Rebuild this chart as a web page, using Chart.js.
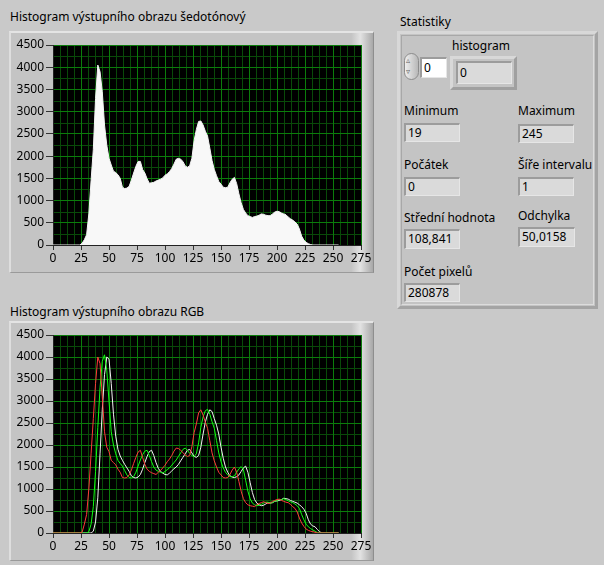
<!DOCTYPE html>
<html>
<head>
<meta charset="utf-8">
<script src="https://cdn.jsdelivr.net/npm/chart.js@4"></script>
<style>
  html, body { margin: 0; padding: 0; }
  body {
    width: 604px; height: 565px; position: relative; overflow: hidden;
    background: #c9c9c9;
    font-family: "Noto Sans", "Open Sans", sans-serif; font-size: 12px; color: #000;
  }
  .abs { position: absolute; }
  .title { position: absolute; font-size: 12px; line-height: 14px; white-space: nowrap; }
  .frame {
    position: absolute; box-sizing: border-box;
    background: linear-gradient(to right, #c4c4c4 0, #c4c4c4 94%, #e2e2e2 96.5%, #a8a8a8 100%);
    border-top: 2px solid #e4e4e4; border-left: 2px solid #dedede;
    border-bottom: 1px solid #9a9a9a; border-right: 1px solid #8e8e8e;
  }
  .frame canvas { position: absolute; left: 0; top: 0; }
  .stats {
    position: absolute; box-sizing: border-box;
    border: 3px solid #d8d8d8; border-right-color: #a4a4a4; border-bottom-color: #a4a4a4;
    background: #c4c4c4;
  }
  .stats-inner {
    position: absolute; left: 1px; top: 1px; right: 1px; bottom: 1px;
    border: 1px solid #a8a8a8; border-right-color: #dcdcdc; border-bottom-color: #dcdcdc;
  }
  .lbl { position: absolute; white-space: nowrap; line-height: 14px; }
  .ind {
    position: absolute; box-sizing: border-box; background: #dadada;
    border-top: 2px solid #9c9c9c; border-left: 2px solid #9c9c9c;
    border-right: 1px solid #e6e6e6; border-bottom: 1px solid #e6e6e6;
    padding-left: 2px; line-height: 15px; white-space: nowrap;
  }
</style>
</head>
<body>

<div class="title" style="left:10px; top:10px;">Histogram výstupního obrazu šedotónový</div>
<div class="frame" style="left:9px; top:31px; width:365px; height:242px;">
  <canvas id="grayChart" width="362" height="239"></canvas>
</div>

<div class="title" style="left:10px; top:305px;">Histogram výstupního obrazu RGB</div>
<div class="frame" style="left:9px; top:321px; width:365px; height:240px;">
  <canvas id="rgbChart" width="362" height="237"></canvas>
</div>

<div class="title" style="left:400px; top:15px;">Statistiky</div>
<div class="stats" style="left:397px; top:31px; width:201px; height:278px;">
  <div class="stats-inner"></div>
</div>

<!-- index selector and histogram value -->
<div class="abs" style="left:404px; top:53px; width:15px; height:27px; border-radius:8px;
     background: linear-gradient(to right, #eeeeee, #b8b8b8); border:1px solid #8c8c8c; box-sizing:border-box;"></div>
<div class="abs" style="left:406px; top:55px; font-size:8px; line-height:10px; color:#666;">▵</div>
<div class="abs" style="left:406px; top:66px; font-size:8px; line-height:10px; color:#666;">▿</div>
<div class="abs" style="left:420px; top:57px; width:27px; height:21px; box-sizing:border-box; background:#fff;
     border-top:2px solid #9c9c9c; border-left:2px solid #9c9c9c; border-right:1px solid #e6e6e6; border-bottom:1px solid #e6e6e6;
     padding-left:2px; line-height:17px;">0</div>
<div class="lbl" style="left:452px; top:39px;">histogram</div>
<div class="abs" style="left:450px; top:56px; width:67px; height:34px; box-sizing:border-box;
     border-top:3px solid #d8d8d8; border-left:3px solid #d8d8d8; border-right:3px solid #a0a0a0; border-bottom:3px solid #a0a0a0; background:#c4c4c4;"></div>
<div class="ind" style="left:456px; top:61px; width:56px; height:23px; line-height:19px;">0</div>

<div class="lbl" style="left:404px; top:104px;">Minimum</div>
<div class="ind" id="vMin" style="left:404px; top:123px; width:56px; height:19px;"></div>
<div class="lbl" style="left:518px; top:104px;">Maximum</div>
<div class="ind" id="vMax" style="left:518px; top:124px; width:56px; height:19px;"></div>

<div class="lbl" style="left:404px; top:158px;">Počátek</div>
<div class="ind" id="vStart" style="left:404px; top:177px; width:56px; height:19px;"></div>
<div class="lbl" style="left:518px; top:158px;">Šíře intervalu</div>
<div class="ind" id="vWidth" style="left:518px; top:177px; width:56px; height:19px;"></div>

<div class="lbl" style="left:404px; top:211px;">Střední hodnota</div>
<div class="ind" id="vMean" style="left:404px; top:229px; width:56px; height:20px;"></div>
<div class="lbl" style="left:518px; top:209px;">Odchylka</div>
<div class="ind" id="vDev" style="left:518px; top:227px; width:57px; height:20px;"></div>

<div class="lbl" style="left:404px; top:265px;">Počet pixelů</div>
<div class="ind" id="vCount" style="left:404px; top:283px; width:56px; height:19px;"></div>

<script>
// ---- histogram data (gray level -> pixel count) ----
const grayLevels = [0, 24, 26, 28, 30, 32, 34, 36, 38, 40, 42, 44, 46, 48, 50, 52, 54, 56, 58, 60, 62, 64, 66, 68, 70,
  72, 74, 76, 78, 80, 82, 84, 86, 88, 90, 92, 94, 96, 98, 100, 102, 104, 106, 108, 110, 112, 114, 116, 118, 120,
  122, 124, 126, 128, 130, 132, 134, 136, 138, 140, 142, 144, 146, 148, 150, 152, 154, 156, 158, 160, 162, 164,
  166, 168, 170, 172, 174, 176, 178, 180, 182, 184, 186, 188, 190, 192, 194, 196, 198, 200, 202, 204, 206, 208,
  210, 212, 214, 216, 218, 220, 222, 224, 226, 228, 230, 232, 255];
const grayCounts = [0, 0, 40, 120, 230, 700, 1450, 2150, 3300, 4050, 3900, 3450, 2700, 2250, 1950, 1800, 1660, 1630,
  1580, 1500, 1300, 1270, 1280, 1320, 1460, 1620, 1770, 1880, 1880, 1700, 1620, 1490, 1390, 1400, 1410, 1440, 1460,
  1480, 1510, 1570, 1600, 1650, 1720, 1820, 1930, 1950, 1930, 1880, 1780, 1750, 1780, 1950, 2350, 2600, 2780, 2790,
  2700, 2560, 2450, 2180, 1900, 1700, 1560, 1430, 1370, 1300, 1290, 1300, 1400, 1480, 1520, 1380, 1150, 950, 800,
  720, 660, 640, 620, 640, 650, 670, 700, 690, 670, 660, 660, 700, 740, 760, 750, 720, 700, 680, 630, 590, 560, 520,
  470, 360, 200, 110, 60, 30, 10, 0, 0];

const redLevels = [0, 24, 26, 28, 30, 32, 34, 36, 38, 40, 42, 44, 46, 48, 50, 52, 54, 56, 58, 60, 62, 64, 66, 68, 70,
  72, 74, 76, 78, 80, 82, 84, 86, 88, 90, 92, 94, 96, 98, 100, 102, 104, 106, 108, 110, 112, 114, 116, 118, 120,
  122, 124, 126, 128, 130, 132, 134, 136, 138, 140, 142, 144, 146, 148, 150, 152, 154, 156, 158, 160, 162, 164,
  166, 168, 170, 172, 174, 176, 178, 180, 182, 184, 186, 188, 190, 192, 194, 196, 198, 200, 202, 204, 206, 208,
  210, 212, 214, 216, 218, 220, 222, 224, 226, 228, 230, 232, 234, 236, 255];
const redCounts = [0, 0, 20, 200, 420, 1000, 1800, 2600, 3400, 4000, 3850, 3100, 2300, 1950, 1850, 1650, 1600, 1550,
  1450, 1380, 1260, 1250, 1260, 1320, 1430, 1580, 1720, 1840, 1880, 1720, 1560, 1450, 1400, 1370, 1350, 1330, 1380,
  1420, 1480, 1540, 1620, 1680, 1760, 1860, 1930, 1920, 1880, 1830, 1770, 1740, 1760, 1960, 2280, 2480, 2730, 2800,
  2680, 2520, 2380, 2100, 1820, 1640, 1500, 1380, 1320, 1260, 1250, 1260, 1330, 1430, 1500, 1380, 1170, 950, 780,
  690, 640, 620, 610, 600, 640, 670, 690, 710, 690, 670, 680, 720, 740, 760, 770, 740, 720, 700, 690, 650, 600, 560,
  480, 340, 230, 150, 90, 60, 40, 30, 15, 0, 0];

const greenLevels = [0, 30, 32, 34, 36, 38, 40, 42, 44, 46, 48, 50, 52, 54, 56, 58, 60, 62, 64, 66, 68, 70, 72, 74, 76,
  78, 80, 82, 84, 86, 88, 90, 92, 94, 96, 98, 100, 102, 104, 106, 108, 110, 112, 114, 116, 118, 120, 122, 124, 126,
  128, 130, 132, 134, 136, 138, 140, 142, 144, 146, 148, 150, 152, 154, 156, 158, 160, 162, 164, 166, 168, 170,
  172, 174, 176, 178, 180, 182, 184, 186, 188, 190, 192, 194, 196, 198, 200, 202, 204, 206, 208, 210, 212, 214,
  216, 218, 220, 222, 224, 226, 228, 230, 232, 234, 236, 238, 255];
const greenCounts = [0, 0, 30, 200, 600, 1400, 2400, 3300, 3900, 4050, 3700, 3000, 2300, 2000, 1800, 1650, 1580, 1520,
  1420, 1320, 1260, 1250, 1280, 1380, 1520, 1660, 1780, 1860, 1880, 1760, 1620, 1500, 1430, 1400, 1380, 1360, 1400,
  1440, 1480, 1540, 1600, 1660, 1740, 1820, 1900, 1930, 1880, 1810, 1760, 1740, 1800, 2050, 2400, 2640, 2780, 2810,
  2700, 2530, 2380, 2100, 1820, 1620, 1480, 1380, 1320, 1280, 1280, 1300, 1380, 1460, 1510, 1440, 1200, 950, 780,
  680, 640, 620, 630, 650, 680, 700, 700, 680, 690, 720, 740, 760, 760, 780, 760, 730, 710, 690, 660, 620, 560, 420,
  300, 200, 140, 100, 70, 40, 10, 0, 0];

const blueLevels = [0, 34, 36, 38, 40, 42, 44, 46, 48, 50, 52, 54, 56, 58, 60, 62, 64, 66, 68, 70, 72, 74, 76, 78, 80,
  82, 84, 86, 88, 90, 92, 94, 96, 98, 100, 102, 104, 106, 108, 110, 112, 114, 116, 118, 120, 122, 124, 126, 128,
  130, 132, 134, 136, 138, 140, 142, 144, 146, 148, 150, 152, 154, 156, 158, 160, 162, 164, 166, 168, 170, 172,
  174, 176, 178, 180, 182, 184, 186, 188, 190, 192, 194, 196, 198, 200, 202, 204, 206, 208, 210, 212, 214, 216,
  218, 220, 222, 224, 226, 228, 230, 232, 234, 236, 238, 240, 255];
const blueCounts = [0, 0, 40, 250, 800, 1800, 2800, 3600, 4000, 3950, 3400, 2700, 2200, 1900, 1750, 1650, 1560, 1480,
  1400, 1300, 1260, 1250, 1270, 1330, 1450, 1600, 1740, 1850, 1880, 1760, 1600, 1470, 1400, 1360, 1330, 1320, 1360,
  1410, 1460, 1500, 1560, 1640, 1720, 1800, 1880, 1900, 1820, 1740, 1720, 1760, 1950, 2250, 2520, 2700, 2800, 2760,
  2600, 2450, 2250, 1950, 1700, 1500, 1380, 1300, 1270, 1260, 1280, 1320, 1400, 1480, 1520, 1380, 1150, 920, 760,
  680, 640, 620, 630, 660, 690, 680, 690, 720, 730, 740, 760, 790, 780, 770, 740, 720, 700, 680, 640, 600, 540, 450,
  300, 200, 160, 140, 80, 30, 0, 0];

// axis ticks
const xTicks = [0, 25, 50, 75, 100, 125, 150, 175, 200, 225, 250, 275];
const yTicks = [0, 500, 1000, 1500, 2000, 2500, 3000, 3500, 4000, 4500];

// statistics of the gray image
const stats = { min: '19', max: '245', start: '0', width: '1', mean: '108,841', dev: '50,0158', count: '280878' };
document.getElementById('vMin').textContent = stats.min;
document.getElementById('vMax').textContent = stats.max;
document.getElementById('vStart').textContent = stats.start;
document.getElementById('vWidth').textContent = stats.width;
document.getElementById('vMean').textContent = stats.mean;
document.getElementById('vDev').textContent = stats.dev;
document.getElementById('vCount').textContent = stats.count;

const pts = (xs, ys) => xs.map((x, i) => ({ x: x, y: ys[i] }));

const MAJOR = '#0b7c0b';
const MINOR = '#094a09';
const FONT = { family: '"Noto Sans", "Open Sans", sans-serif', size: 12 };

// black plot area plus the fine sub-grid, painted before the main grid
const plotBackground = {
  id: 'plotBackground',
  beforeDraw(chart) {
    const { ctx, chartArea: a, scales } = chart;
    ctx.save();
    ctx.fillStyle = '#000';
    ctx.fillRect(a.left, a.top, a.right - a.left, a.bottom - a.top);
    ctx.strokeStyle = MINOR;
    ctx.lineWidth = 1;
    ctx.beginPath();
    for (let v = 6.25; v < 275; v += 6.25) {
      if (v % 25 === 0) continue;
      const px = Math.round(scales.x.getPixelForValue(v)) + 0.5;
      ctx.moveTo(px, a.top); ctx.lineTo(px, a.bottom);
    }
    for (let v = 250; v < 4500; v += 500) {
      const py = Math.round(scales.y.getPixelForValue(v)) + 0.5;
      ctx.moveTo(a.left, py); ctx.lineTo(a.right, py);
    }
    ctx.stroke();
    ctx.restore();
  }
};

function makeOptions() {
  return {
    responsive: false,
    animation: false,
    devicePixelRatio: 1,
    layout: { padding: { top: 12, right: 12, bottom: 0, left: 0 } },
    plugins: { legend: { display: false }, tooltip: { enabled: false } },
    elements: { point: { radius: 0 }, line: { tension: 0, borderWidth: 1 } },
    scales: {
      x: {
        type: 'linear', min: 0, max: 275,
        afterBuildTicks: s => { s.ticks = xTicks.map(v => ({ value: v })); },
        afterFit: s => { s.height = 27; },
        grid: { color: MAJOR, tickColor: '#333', tickLength: 5, lineWidth: 1 },
        border: { display: true, color: '#222' },
        ticks: { color: '#000', font: FONT, padding: 1, maxRotation: 0, autoSkip: false, callback: v => String(v) }
      },
      y: {
        type: 'linear', min: 0, max: 4500,
        afterBuildTicks: s => { s.ticks = yTicks.map(v => ({ value: v })); },
        afterFit: s => { s.width = 42; },
        grid: { color: MAJOR, tickColor: '#333', tickLength: 7, lineWidth: 1 },
        border: { display: true, color: '#222' },
        ticks: { color: '#000', font: FONT, padding: 2, autoSkip: false, callback: v => String(v) }
      }
    }
  };
}

new Chart(document.getElementById('grayChart'), {
  type: 'line',
  data: {
    datasets: [{
      data: pts(grayLevels, grayCounts),
      borderColor: '#f4f4f4', backgroundColor: '#f8f8f8', fill: 'origin', borderWidth: 1
    }]
  },
  options: makeOptions(),
  plugins: [plotBackground]
});

new Chart(document.getElementById('rgbChart'), {
  type: 'line',
  data: {
    datasets: [
      { label: 'R', data: pts(redLevels, redCounts), borderColor: '#ff3a3a' },
      { label: 'G', data: pts(greenLevels, greenCounts), borderColor: '#10ff10' },
      { label: 'B', data: pts(blueLevels, blueCounts), borderColor: '#f2f2f2' }
    ].map(d => Object.assign(d, { fill: false, borderWidth: 1 }))
  },
  options: makeOptions(),
  plugins: [plotBackground]
});
</script>
</body>
</html>
